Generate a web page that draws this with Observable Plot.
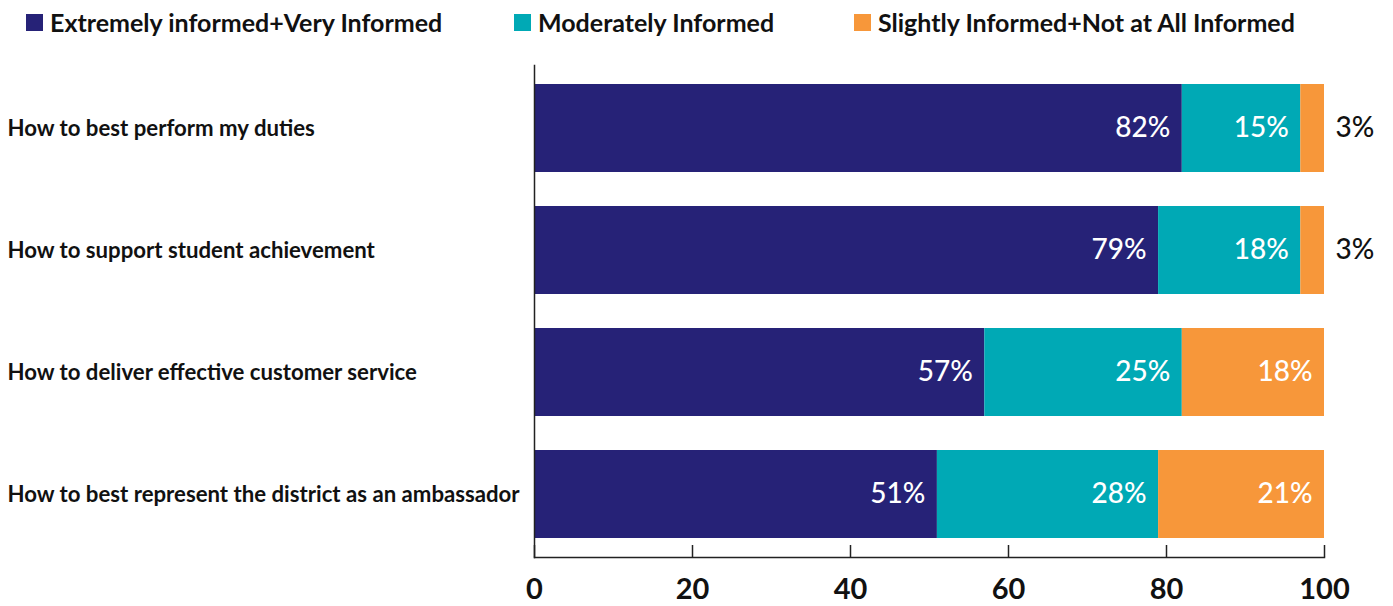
<!DOCTYPE html>
<html>
<head>
<meta charset="utf-8">
<script src="https://cdn.jsdelivr.net/npm/d3@7"></script>
<script src="https://cdn.jsdelivr.net/npm/@observablehq/plot@0.6"></script>
<style>
  html, body { margin: 0; padding: 0; background: #fff; }
  body { width: 1393px; height: 606px; overflow: hidden; font-family: Lato, "Open Sans", sans-serif; }
  #legend { position: relative; height: 40px; width: 1393px; }
  .item { position: absolute; top: 14px; display: flex; align-items: center; height: 17px; }
  .sw { width: 17px; height: 17px; margin-right: 7px; flex: none; }
  .lab { font-size: 25px; font-weight: 700; color: #111; white-space: nowrap; line-height: 17px; }
  svg { display: block; }
</style>
</head>
<body>
<div id="legend"></div>
<div id="chart"></div>
<script>
const questions = [
  "How to best perform my duties",
  "How to support student achievement",
  "How to deliver effective customer service",
  "How to best represent the district as an ambassador"
];
const categories = [
  "Extremely informed+Very Informed",
  "Moderately Informed",
  "Slightly Informed+Not at All Informed"
];
const colors = ["#262277", "#00A9B5", "#F7973A"];
const extremelyVery = [82, 79, 57, 51];
const moderately = [15, 18, 25, 28];
const slightlyNot = [3, 3, 18, 21];
const xTicks = [0, 20, 40, 60, 80, 100];
const legendLeft = [26, 514, 854];

const series = [extremelyVery, moderately, slightlyNot];
const data = [];
questions.forEach((q, i) => {
  categories.forEach((c, j) => {
    data.push({question: q, category: c, value: series[j][i]});
  });
});

// legend
const legend = document.getElementById("legend");
categories.forEach((c, j) => {
  const it = document.createElement("div");
  it.className = "item";
  it.style.left = legendLeft[j] + "px";
  it.innerHTML = `<div class="sw" style="background:${colors[j]}"></div><div class="lab">${c}</div>`;
  legend.appendChild(it);
});

const chart = Plot.plot({
  width: 1393,
  height: 566,
  marginLeft: 534,
  marginRight: 69,
  marginTop: 25,
  marginBottom: 49,
  style: {fontFamily: "Lato, sans-serif", background: "#fff"},
  x: {domain: [0, 100]},
  y: {domain: questions, paddingInner: 0.275, paddingOuter: 0.143, axis: null},
  color: {domain: categories, range: colors},
  marks: [
    Plot.barX(data, Plot.stackX({x: "value", y: "question", fill: "category", z: "category", order: categories})),
    Plot.text(data, Plot.stackX2({
      x: "value", y: "question", z: "category", order: categories,
      text: d => d.value >= 10 ? d.value + "%" : null,
      textAnchor: "end", dx: -12, fill: "white", fontSize: 28, fontWeight: 500
    })),
    Plot.text(data, Plot.stackX2({
      x: "value", y: "question", z: "category", order: categories,
      text: d => d.value < 10 ? d.value + "%" : null,
      textAnchor: "start", dx: 11, fill: "#111", fontSize: 28, fontWeight: 500
    })),
    Plot.text(questions, {
      y: d => d, text: d => d, frameAnchor: "left", textAnchor: "start", dx: -527,
      fill: "#111", fontSize: 22.2, fontWeight: 700
    }),
    Plot.axisX({ticks: xTicks, tickSize: 12, dy: -12, tickFormat: () => "", label: null, stroke: "#222", strokeWidth: 1.5}),
    Plot.axisX({ticks: xTicks, tickSize: 0, tickPadding: 21, label: null, fontSize: 29, fontWeight: 700, fill: "#111"}),
    Plot.frame({anchor: "bottom", stroke: "#222", strokeWidth: 1.5}),
    Plot.frame({anchor: "left", stroke: "#222", strokeWidth: 1.5})
  ]
});
document.getElementById("chart").appendChild(chart);
</script>
</body>
</html>
